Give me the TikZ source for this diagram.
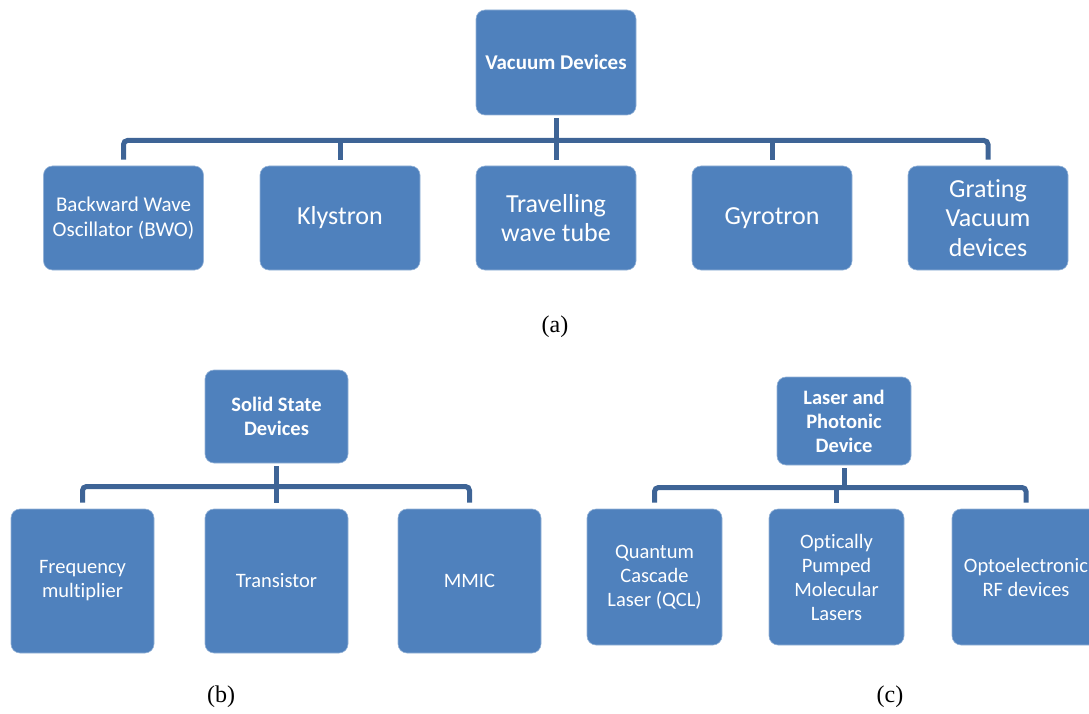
\documentclass[tikz,border=0pt]{standalone}
\usepackage{fontspec}
\setmainfont{Carlito}[Ligatures=NoCommon]
\newfontfamily\capfont{Liberation Serif}
\usetikzlibrary{calc}

\definecolor{boxblue}{RGB}{79,129,189}
\definecolor{linkblue}{RGB}{62,100,150}

\tikzset{
    dev/.style={draw=white!40!boxblue, line width=0.6pt, fill=boxblue, rounded corners=9pt,
                text=white, align=center, inner sep=2pt},
    head/.style={dev, font=\bfseries\fontsize{20.5}{24}\selectfont},
    bigdev/.style={dev, minimum width=160pt, minimum height=104pt, font=\fontsize{26}{29.5}\selectfont},
    smalldev/.style={dev, minimum width=143pt, minimum height=144pt, font=\fontsize{20.5}{24}\selectfont},
    link/.style={draw=linkblue, line width=5pt, rounded corners=4pt},
    caption/.style={font=\capfont\fontsize{24}{28}\selectfont},
}

\begin{document}
\begin{tikzpicture}[x=1pt,y=-1pt]
    \useasboundingbox (0,0) rectangle (1089,714);

    % (a) vacuum devices
    \node[head, minimum width=160pt, minimum height=105pt, font=\bfseries\fontsize{21}{25}\selectfont] (vac) at (556,62.5) {Vacuum Devices};
    \node[bigdev, font=\fontsize{21}{25}\selectfont] (bwo) at (123.5,218) {Backward Wave\\Oscillator (BWO)};
    \node[bigdev] (kly)  at (340,218) {Klystron};
    \node[bigdev] (twt)  at (556,218) {Travelling\\wave tube};
    \node[bigdev] (gyro) at (772,218) {Gyrotron};
    \node[bigdev] (grat) at (988,218) {Grating\\Vacuum\\devices};
    \coordinate (abus) at (556,140.5);
    \draw[link, shorten <=3pt] (vac.south) -- (abus);
    \draw[link, shorten <=6pt, shorten >=6pt] (bwo.north) |- (abus) -| (grat.north);
    \foreach \n in {kly,twt,gyro}
        \draw[link, shorten <=6pt] (\n.north) -- (\n.north |- abus);
    \node[caption] (capa) at (555,327) {(a)};

    % (b) solid state devices
    \node[head, minimum width=143pt, minimum height=93pt] (ssd) at (276.5,416.5) {Solid State\\Devices};
    \node[smalldev] (freq)  at (82.5,581)  {Frequency\\multiplier};
    \node[smalldev] (trans) at (276.5,581) {Transistor};
    \node[smalldev] (mmic)  at (469.5,581) {MMIC};
    \coordinate (bbus) at (276.5,486.5);
    \draw[link, shorten <=3pt] (ssd.south) -- (bbus);
    \draw[link, shorten <=6pt, shorten >=6pt] (freq.north) |- (bbus) -| (mmic.north);
    \draw[link, shorten <=6pt] (trans.north) -- (trans.north |- bbus);
    \node[caption] (capb) at (221,697) {(b)};

    % (c) laser and photonic devices
    \node[head, minimum width=134pt, minimum height=88pt] (lpd) at (844,421) {Laser and\\Photonic\\Device};
    \node[smalldev, minimum width=135pt, minimum height=136pt] (qcl)  at (654.5,577) {Quantum\\Cascade\\Laser (QCL)};
    \node[smalldev, minimum width=135pt, minimum height=136pt] (opml) at (836.5,577) {Optically\\Pumped\\Molecular\\Lasers};
    \node[smalldev, minimum width=148pt, minimum height=136pt] (opto) at (1026,577) {Optoelectronic\\RF devices};
    \coordinate (cbus) at (844,487.5);
    \draw[link, shorten <=3pt] (lpd.south) -- (cbus);
    \draw[link, shorten <=6pt, shorten >=6pt] (qcl.north) |- (cbus) -| (opto.north);
    \draw[link, shorten <=6pt] (opml.north) -- (opml.north |- cbus);
    \node[caption] (capc) at (890,697) {(c)};
\end{tikzpicture}
\end{document}
